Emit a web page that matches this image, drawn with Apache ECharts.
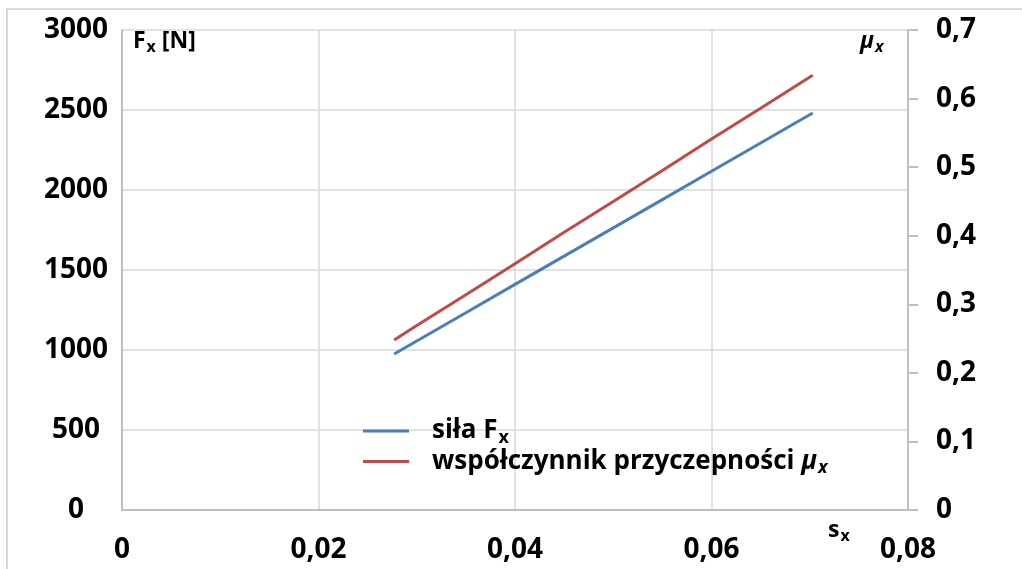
<!DOCTYPE html>
<html>
<head>
<meta charset="utf-8">
<script src="https://cdn.jsdelivr.net/npm/echarts@6/dist/echarts.min.js"></script>
<style>html,body{margin:0;padding:0;background:#fff}#c{width:1022px;height:569px}</style>
</head>
<body>
<div id="c"></div>
<script>
var sxValues = [0.0277, 0.030, 0.035, 0.040, 0.045, 0.050, 0.055, 0.060, 0.065, 0.0703];
var forceFx = [975, 1056, 1233, 1410, 1587, 1763, 1940, 2117, 2294, 2481];
var muX = [0.248, 0.269, 0.314, 0.359, 0.405, 0.450, 0.495, 0.541, 0.586, 0.634];
var seriesNames = ['siła Fx', 'współczynnik przyczepności μx'];

var FONT = '"Open Sans", "DejaVu Sans", sans-serif';
var chart = echarts.init(document.getElementById('c'));
function pairs(xs, ys) { return xs.map(function (x, i) { return [x, ys[i]]; }); }
function comma(v, d) { return v === 0 ? '0' : v.toFixed(d).replace('.', ','); }

var richBase = {
  a: { fontFamily: FONT, fontWeight: 'bold', fontSize: 23, color: '#000' },
  s: { fontFamily: FONT, fontWeight: 'bold', fontSize: 16, color: '#000', padding: [12, 0, 0, 1] },
  m: { fontFamily: FONT, fontWeight: 'bold', fontStyle: 'italic', fontSize: 23, color: '#000' },
  ms: { fontFamily: FONT, fontWeight: 'bold', fontStyle: 'italic', fontSize: 16, color: '#000', padding: [12, 0, 0, 1] }
};
var richLegend = {
  a: { fontFamily: FONT, fontWeight: 'bold', fontSize: 26, color: '#000' },
  s: { fontFamily: FONT, fontWeight: 'bold', fontSize: 18, color: '#000', padding: [13, 0, 0, 1] },
  m: { fontFamily: FONT, fontWeight: 'bold', fontStyle: 'italic', fontSize: 26, color: '#000' },
  ms: { fontFamily: FONT, fontWeight: 'bold', fontStyle: 'italic', fontSize: 18, color: '#000', padding: [13, 0, 0, 1] }
};

chart.setOption({
  animation: false,
  backgroundColor: '#fff',
  grid: { left: 122, right: 114, top: 30, bottom: 59, containLabel: false },
  xAxis: {
    type: 'value', min: 0, max: 0.08, interval: 0.02,
    axisLine: { show: true, lineStyle: { color: '#bfbfbf', width: 2 } },
    axisTick: { show: false },
    splitLine: { show: true, lineStyle: { color: '#d9d9d9', width: 1.5 } },
    axisLabel: { margin: 26, fontFamily: FONT, fontWeight: 'bold', fontSize: 28, color: '#000',
      formatter: function (v) { return comma(v, 2); } }
  },
  yAxis: [{
    type: 'value', min: 0, max: 3000, interval: 500, position: 'left',
    axisLine: { show: true, lineStyle: { color: '#bfbfbf', width: 2 } },
    axisTick: { show: false },
    splitLine: { show: true, lineStyle: { color: '#d9d9d9', width: 1.5 } },
    axisLabel: { margin: 46, align: 'center', fontFamily: FONT, fontWeight: 'bold', fontSize: 28, color: '#000',
      formatter: function (v) { return String(v); } }
  }, {
    type: 'value', min: 0, max: 0.7, interval: 0.1, position: 'right',
    axisLine: { show: true, lineStyle: { color: '#bfbfbf', width: 2 } },
    axisTick: { show: true, inside: false, length: 10, lineStyle: { color: '#bfbfbf', width: 2 } },
    splitLine: { show: false },
    axisLabel: { margin: 28, fontFamily: FONT, fontWeight: 'bold', fontSize: 28, color: '#000',
      formatter: function (v) { return comma(v, 1); } }
  }],
  legend: {
    orient: 'vertical', left: 358, top: 413, itemGap: 2,
    icon: 'rect', itemWidth: 46, itemHeight: 3,
    data: seriesNames,
    formatter: function (n) {
      if (n === seriesNames[0]) return '{a|siła F}{s|x}';
      return '{a|współczynnik przyczepności }{m|μ}{ms|x}';
    },
    textStyle: { rich: richLegend, padding: [0, 0, 0, 18] }
  },
  graphic: [
    { type: 'rect', silent: true, z: -10, shape: { x: 7, y: 9, width: 1100, height: 700 },
      style: { fill: 'none', stroke: '#d9d9d9', lineWidth: 2 } },
    { type: 'text', left: 133, top: 30, style: { rich: richBase, text: '{a|F}{s|x}{a| [N]}' } },
    { type: 'text', left: 860, top: 30, style: { rich: richBase, text: '{m|μ}{ms|x}' } },
    { type: 'text', left: 828, top: 519, style: { rich: richBase, text: '{a|s}{s|x}' } }
  ],
  series: [{
    name: seriesNames[0], type: 'line', yAxisIndex: 0, symbol: 'none', smooth: false,
    data: pairs(sxValues, forceFx),
    lineStyle: { color: '#4a7ebb', width: 3 }, itemStyle: { color: '#4a7ebb' }
  }, {
    name: seriesNames[1], type: 'line', yAxisIndex: 1, symbol: 'none', smooth: false,
    data: pairs(sxValues, muX),
    lineStyle: { color: '#be4b48', width: 3 }, itemStyle: { color: '#be4b48' }
  }]
});
</script>
</body>
</html>
